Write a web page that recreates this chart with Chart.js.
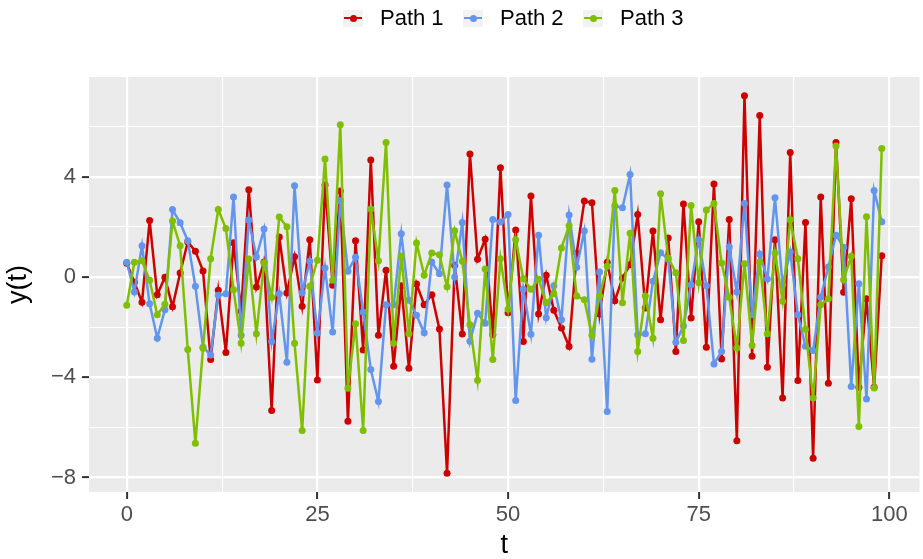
<!DOCTYPE html>
<html>
<head>
<meta charset="utf-8">
<script src="https://cdn.jsdelivr.net/npm/chart.js@4.4.1/dist/chart.umd.min.js"></script>
<style>
  body { margin: 0; background: #fff; }
  #wrap { position: relative; width: 923px; height: 559px; }
  .item { position: absolute; top: 8px; height: 20px; display: flex; align-items: center;
          font: 22px "Liberation Sans", Arial, sans-serif; color: #000; white-space: nowrap; }
  .key { width: 20px; height: 17px; background: #F2F2F2; position: relative; margin-right: 17px; }
  .key i { position: absolute; left: 1px; right: 1px; top: 7.5px; height: 2px; }
  .key b { position: absolute; left: 6.5px; top: 5px; width: 7px; height: 7px; border-radius: 50%; }
</style>
</head>
<body>
<div id="wrap">
  <canvas id="chart" width="923" height="559"></canvas>
  <div id="legend"></div>
</div>
<script>
const tValues = Array.from({ length: 100 }, (_, i) => i);

const path1 = [
  0.55, -0.21, -1.01, 2.25, -0.71, -0.01, -1.19, 0.16, 1.4, 1.03,
  0.24, -3.29, -0.53, -3.01, 1.37, -1.36, 3.48, -0.4, 0.6, -5.33,
  1.6, -0.64, 0.81, -1.17, 1.49, -4.11, 3.67, -0.33, 3.43, -5.76,
  1.45, -2.91, 4.67, -2.33, 0.27, -3.56, -0.35, -3.64, -0.28, -1.11,
  -0.71, -2.08, -7.83, 0.47, -2.28, 4.91, 0.71, 1.51, -2.31, 4.36,
  -1.43, 1.87, -2.57, 3.23, -1.48, 0.07, -1.33, -2.04, -2.77, 0.95,
  3.03, 2.96, -1.48, 0.59, -0.95, -0.04, 0.49, 2.49, -1.24, 1.83,
  -1.71, 1.56, -2.97, 2.91, -1.64, 2.2, -2.8, 3.71, -3.27, 2.29,
  -6.53, 7.23, -3.16, 6.44, -3.6, 1.49, -4.83, 4.97, -4.13, 2.17,
  -7.23, 3.19, -4.24, 5.37, -0.61, 3.12, -4.4, -0.87, -4.4, 0.85
];
const path2 = [
  0.59, -0.6, 1.25, -1.07, -2.44, -1.31, 2.69, 2.16, 1.45, -0.37,
  -2.8, -3.11, -0.73, -0.67, 3.19, -2.33, 2.27, 0.8, 1.91, -2.57,
  -0.67, -3.4, 3.64, -0.63, 0.63, -2.24, 0.36, -2.2, 3.04, 0.23,
  0.79, -1.4, -3.69, -4.97, -1.11, -1.11, 1.73, -0.93, -1.53, -2.23,
  0.6, 0.13, 3.67, 0.0, 2.17, -2.56, -1.45, -1.85, 2.29, 2.19,
  2.49, -4.93, -0.49, -2.29, 1.67, -1.63, -0.35, -1.71, 2.47, 0.39,
  1.83, -3.28, 0.2, -5.37, 2.83, 2.76, 4.09, -2.31, -2.27, -0.17,
  0.97, 0.71, -2.6, -1.96, -0.31, 1.49, -0.35, -3.47, -2.97, 1.2,
  -0.6, 2.93, -1.51, 0.92, -0.08, 3.16, -0.31, 1.0, -1.51, -2.76,
  -2.93, -0.8, 0.4, 1.67, 1.19, -4.37, -0.27, -4.87, 3.45, 2.2
];
const path3 = [
  -1.13, 0.59, 0.65, -0.13, -1.51, -1.09, 2.23, 1.25, -2.89, -6.63,
  -2.84, 0.73, 2.69, 1.93, -0.51, -2.64, 0.72, -2.27, 0.56, -0.81,
  2.39, 2.0, -2.64, -6.13, -0.37, 0.67, 4.71, -0.13, 6.07, -4.44,
  -1.87, -6.13, 2.71, 0.65, 5.37, -2.64, 0.84, -2.27, 1.36, 0.07,
  0.96, 0.89, -0.39, 1.84, 0.63, -1.91, -4.12, 0.32, -3.29, 0.73,
  -1.29, 1.49, -0.07, -0.49, -0.09, -1.03, -0.67, 1.16, 2.04, -0.76,
  -0.91, -2.33, -0.76, 0.43, 3.45, -1.03, 1.75, -2.97, -0.76, -2.44,
  3.32, 0.76, 0.17, -2.53, 2.85, -0.23, 2.67, 2.93, 0.56, -0.81,
  -2.83, 0.53, -2.73, 0.6, -2.27, 0.96, -0.97, 2.28, 0.73, -2.09,
  -4.83, -1.11, -0.87, 5.23, -0.11, 0.83, -5.97, 2.4, -4.43, 5.13
];

const seriesNames = ['Path 1', 'Path 2', 'Path 3'];
const seriesColors = ['#CD0000', '#6495ED', '#7FBF00'];

const xMajor = [0, 25, 50, 75, 100];
const xMinor = [12.5, 37.5, 62.5, 87.5];
const yMajor = [-8, -4, 0, 4];
const yMinor = [-6, -2, 2, 6];

const FONT = '"Liberation Sans", Arial, sans-serif';

// legend, built as html
const legendLeft = [343, 463, 583];
const legendEl = document.getElementById('legend');
seriesNames.forEach((name, i) => {
  const it = document.createElement('div');
  it.className = 'item';
  it.style.left = legendLeft[i] + 'px';
  it.innerHTML = '<span class="key"><i style="background:' + seriesColors[i] + '"></i><b style="background:' +
    seriesColors[i] + '"></b></span><span>' + name + '</span>';
  legendEl.appendChild(it);
});

const panelBg = {
  id: 'panelBg',
  beforeDraw(chart) {
    const { ctx, chartArea: a } = chart;
    ctx.save();
    ctx.fillStyle = '#EBEBEB';
    ctx.fillRect(a.left, a.top, a.right - a.left, a.bottom - a.top);
    ctx.restore();
  }
};

const allPaths = [path1, path2, path3];
const datasets = allPaths.map((vals, i) => ({
  label: seriesNames[i],
  data: tValues.map((t, j) => ({ x: t, y: vals[j] })),
  borderColor: seriesColors[i],
  backgroundColor: seriesColors[i],
  borderWidth: 2.5,
  pointRadius: 3.5,
  pointBorderWidth: 0,
  pointHoverRadius: 3.5,
  tension: 0,
  order: 3 - i
}));

const xTicks = xMajor.concat(xMinor).sort((a, b) => a - b);
const yTicks = yMajor.concat(yMinor).sort((a, b) => a - b);
const isMajor = (list) => (ctx) => ctx.tick && list.includes(ctx.tick.value);

new Chart(document.getElementById('chart').getContext('2d'), {
  type: 'line',
  data: { datasets },
  plugins: [panelBg],
  options: {
    responsive: false,
    animation: false,
    devicePixelRatio: 1,
    layout: { padding: { top: 77, left: 0, right: -2, bottom: 0 } },
    plugins: { legend: { display: false }, tooltip: { enabled: false } },
    scales: {
      x: {
        type: 'linear', min: -4.95, max: 103.95,
        afterBuildTicks: s => { s.ticks = xTicks.map(v => ({ value: v })); },
        afterFit: s => { s.height = 67; s.paddingLeft = 0; s.paddingRight = 0; },
        border: { display: false },
        grid: {
          color: '#FFFFFF',
          lineWidth: ctx => isMajor(xMajor)(ctx) ? 2.2 : 1.1,
          drawTicks: true, tickLength: 7, tickWidth: 2,
          tickColor: ctx => isMajor(xMajor)(ctx) ? '#333333' : 'rgba(0,0,0,0)'
        },
        ticks: {
          autoSkip: false, maxRotation: 0, padding: 3, color: '#4D4D4D',
          font: { size: 22, family: FONT },
          callback: v => xMajor.includes(v) ? String(v) : ''
        },
        title: { display: true, text: 't', color: '#000', font: { size: 27, family: FONT, lineHeight: 1 }, padding: { top: 0, bottom: 0 } }
      },
      y: {
        type: 'linear', min: -8.58, max: 7.98,
        afterBuildTicks: s => { s.ticks = yTicks.map(v => ({ value: v })); },
        afterFit: s => { s.width = 89; s.paddingTop = 0; s.paddingBottom = 0; },
        border: { display: false },
        grid: {
          color: '#FFFFFF',
          lineWidth: ctx => isMajor(yMajor)(ctx) ? 2.2 : 1.1,
          drawTicks: true, tickLength: 7, tickWidth: 2,
          tickColor: ctx => isMajor(yMajor)(ctx) ? '#333333' : 'rgba(0,0,0,0)'
        },
        ticks: {
          autoSkip: false, padding: 6, color: '#4D4D4D',
          font: { size: 22, family: FONT },
          callback: v => yMajor.includes(v) ? String(v).replace('-', '\u2212') : ''
        },
        title: { display: true, text: 'y(t)', color: '#000', font: { size: 27, family: FONT }, padding: { top: 2, bottom: 0 } }
      }
    }
  }
});
</script>
</body>
</html>
